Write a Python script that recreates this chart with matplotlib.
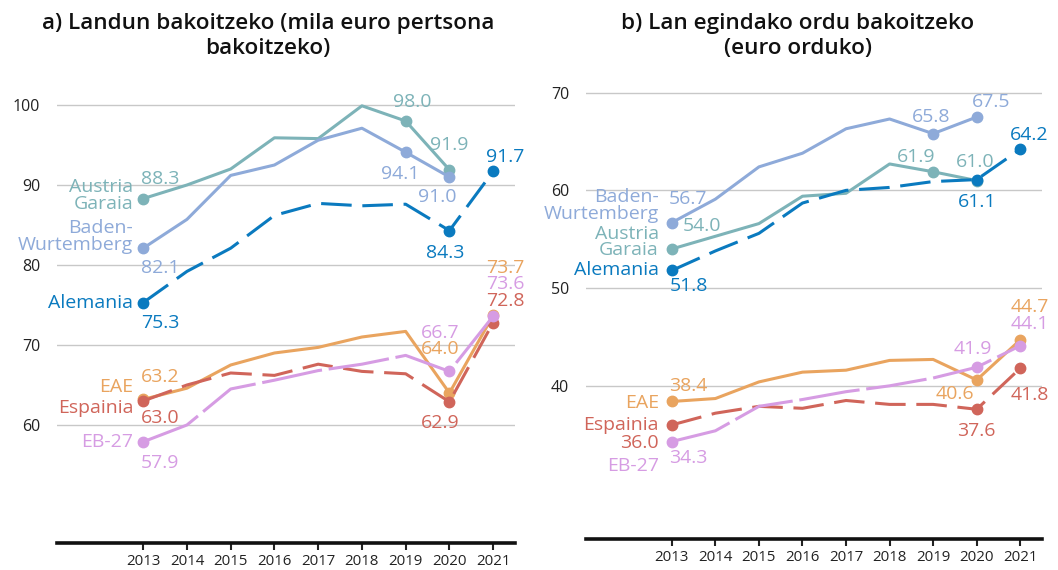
import matplotlib
matplotlib.use("Agg")
import matplotlib.pyplot as plt

plt.rcParams['font.family'] = ['Open Sans', 'DejaVu Sans']

years = [2013, 2014, 2015, 2016, 2017, 2018, 2019, 2020, 2021]

# a) per employed person (thousand euro)
a_austria = [88.3, 90.0, 92.0, 95.9, 95.8, 99.9, 98.0, 91.9]
a_baden = [82.1, 85.7, 91.2, 92.5, 95.6, 97.1, 94.1, 91.0]
a_alemania = [75.3, 79.2, 82.1, 86.2, 87.7, 87.4, 87.6, 84.3, 91.7]
a_eae = [63.2, 64.6, 67.5, 69.0, 69.7, 71.0, 71.7, 64.0, 73.7]
a_espainia = [63.0, 65.0, 66.5, 66.2, 67.6, 66.7, 66.4, 62.9, 72.8]
a_eb27 = [57.9, 60.0, 64.5, 65.6, 66.8, 67.6, 68.7, 66.7, 73.6]

# b) per hour worked (euro)
b_baden = [56.7, 59.1, 62.4, 63.8, 66.3, 67.3, 65.8, 67.5]
b_austria = [54.0, 55.3, 56.6, 59.4, 59.7, 62.7, 61.9, 61.0]
b_alemania = [51.8, 53.8, 55.6, 58.7, 60.0, 60.3, 60.9, 61.1, 64.2]
b_eae = [38.4, 38.7, 40.4, 41.4, 41.6, 42.6, 42.7, 40.6, 44.7]
b_espainia = [36.0, 37.2, 37.9, 37.7, 38.5, 38.1, 38.1, 37.6, 41.8]
b_eb27 = [34.3, 35.4, 37.9, 38.6, 39.4, 40.0, 40.8, 41.9, 44.1]

C_AUS = '#7db3b8'
C_BAD = '#8eaad9'
C_ALE = '#0a7abf'
C_EAE = '#e9a45f'
C_ESP = '#d0655a'
C_EB = '#d69ce3'

DASH = (0, (10, 3.5))
LONGDASH = (0, (20, 2.2))

fig = plt.figure(figsize=(10.58, 5.70), dpi=100)
ax1 = fig.add_axes([0.0539, 0.0474, 0.4329, 0.8175])
ax2 = fig.add_axes([0.5539, 0.0539, 0.431, 0.8265])


def setup(ax, ylim, yticks):
    ax.set_xlim(2011.03, 2021.5)
    ax.set_ylim(*ylim)
    ax.set_yticks(yticks)
    ax.set_xticks(years)
    ax.grid(axis='y', color='#c8c8c8', linewidth=1)
    ax.set_axisbelow(True)
    for s in ['top', 'right', 'left']:
        ax.spines[s].set_visible(False)
    ax.spines['bottom'].set_linewidth(2.6)
    ax.spines['bottom'].set_color('#111111')
    ax.tick_params(axis='y', length=0, pad=12, labelsize=11.5, labelcolor='#222222')
    ax.tick_params(axis='x', length=5, width=1.5, color='#222222', pad=3,
                   labelsize=10.8, labelcolor='#222222')


def series(ax, vals, color, ls, marks):
    ax.plot(years[:len(vals)], vals, color=color, linestyle=ls, linewidth=2.2,
            marker='o', markersize=7.5, markevery=marks, solid_capstyle='butt')


def lab(ax, i, vals, text, color, dx, dy, ha='center'):
    ax.annotate(text, (years[i], vals[i]), xytext=(dx, -dy), textcoords='offset pixels',
                ha=ha, va='center', color=color, fontsize=14, linespacing=0.92)


# ---- a) ----
setup(ax1, (45.25, 103.5), [60, 70, 80, 90, 100])
series(ax1, a_austria, C_AUS, '-', [0, 6, 7])
series(ax1, a_baden, C_BAD, '-', [0, 6, 7])
series(ax1, a_alemania, C_ALE, DASH, [0, 7, 8])
series(ax1, a_eae, C_EAE, '-', [0, 7, 8])
series(ax1, a_espainia, C_ESP, DASH, [0, 7, 8])
series(ax1, a_eb27, C_EB, LONGDASH, [0, 7, 8])

lab(ax1, 0, a_austria, 'Austria\nGaraia', C_AUS, -10, -3, 'right')
lab(ax1, 0, a_austria, '88.3', C_AUS, 17, -20)
lab(ax1, 6, a_austria, '98.0', C_AUS, 7, -19)
lab(ax1, 7, a_austria, '91.9', C_AUS, 0, -25)
lab(ax1, 0, a_baden, 'Baden-\nWurtemberg', C_BAD, -10, -12, 'right')
lab(ax1, 0, a_baden, '82.1', C_BAD, 17, 20)
lab(ax1, 6, a_baden, '94.1', C_BAD, -5, 22)
lab(ax1, 7, a_baden, '91.0', C_BAD, -12, 20)
lab(ax1, 0, a_alemania, 'Alemania', C_ALE, -10, 0, 'right')
lab(ax1, 0, a_alemania, '75.3', C_ALE, 17, 20)
lab(ax1, 7, a_alemania, '84.3', C_ALE, -4, 22)
lab(ax1, 8, a_alemania, '91.7', C_ALE, 12, -14)
lab(ax1, 0, a_eae, 'EAE', C_EAE, -10, -12, 'right')
lab(ax1, 0, a_eae, '63.2', C_EAE, 17, -22)
lab(ax1, 7, a_eae, '64.0', C_EAE, -9, -44)
lab(ax1, 8, a_eae, '73.7', C_EAE, 12, -47)
lab(ax1, 0, a_espainia, 'Espainia', C_ESP, -10, 7, 'right')
lab(ax1, 0, a_espainia, '63.0', C_ESP, 17, 17)
lab(ax1, 7, a_espainia, '62.9', C_ESP, -9, 21)
lab(ax1, 8, a_espainia, '72.8', C_ESP, 12, -22)
lab(ax1, 0, a_eb27, 'EB-27', C_EB, -10, 0, 'right')
lab(ax1, 0, a_eb27, '57.9', C_EB, 17, 21)
lab(ax1, 7, a_eb27, '66.7', C_EB, -9, -38)
lab(ax1, 8, a_eb27, '73.6', C_EB, 12, -32)

# ---- b) ----
setup(ax2, (24.3, 72.5), [40, 50, 60, 70])
series(ax2, b_baden, C_BAD, '-', [0, 6, 7])
series(ax2, b_austria, C_AUS, '-', [0, 6, 7])
series(ax2, b_alemania, C_ALE, DASH, [0, 7, 8])
series(ax2, b_eae, C_EAE, '-', [0, 7, 8])
series(ax2, b_espainia, C_ESP, DASH, [0, 7, 8])
series(ax2, b_eb27, C_EB, LONGDASH, [0, 7, 8])

lab(ax2, 0, b_baden, 'Baden-\nWurtemberg', C_BAD, -13, -17, 'right')
lab(ax2, 0, b_baden, '56.7', C_BAD, 16, -24)
lab(ax2, 6, b_baden, '65.8', C_BAD, -2, -17)
lab(ax2, 7, b_baden, '67.5', C_BAD, 14, -15)
lab(ax2, 0, b_austria, 'Austria\nGaraia', C_AUS, -13, -7, 'right')
lab(ax2, 0, b_austria, '54.0', C_AUS, 30, -23)
lab(ax2, 6, b_austria, '61.9', C_AUS, -17, -15)
lab(ax2, 7, b_austria, '61.0', C_AUS, -2, -19)
lab(ax2, 0, b_alemania, 'Alemania', C_ALE, -13, 0, 'right')
lab(ax2, 0, b_alemania, '51.8', C_ALE, 17, 16)
lab(ax2, 7, b_alemania, '61.1', C_ALE, 0, 22)
lab(ax2, 8, b_alemania, '64.2', C_ALE, 9, -14)
lab(ax2, 0, b_eae, 'EAE', C_EAE, -13, 2, 'right')
lab(ax2, 0, b_eae, '38.4', C_EAE, 16, -15)
lab(ax2, 7, b_eae, '40.6', C_EAE, -22, 14)
lab(ax2, 8, b_eae, '44.7', C_EAE, 10, -33)
lab(ax2, 0, b_espainia, 'Espainia', C_ESP, -13, 0, 'right')
lab(ax2, 0, b_espainia, '36.0', C_ESP, -13, 18, 'right')
lab(ax2, 7, b_espainia, '37.6', C_ESP, 0, 22)
lab(ax2, 8, b_espainia, '41.8', C_ESP, 10, 27)
lab(ax2, 0, b_eb27, 'EB-27', C_EB, -13, 24, 'right')
lab(ax2, 0, b_eb27, '34.3', C_EB, 16, 16)
lab(ax2, 7, b_eb27, '41.9', C_EB, -4, -18)
lab(ax2, 8, b_eb27, '44.1', C_EB, 10, -22)

fig.text(268 / 1058, 1 - 36 / 570, 'a) Landun bakoitzeko (mila euro pertsona\nbakoitzeko)',
         ha='center', va='center', fontsize=16.2, fontweight='semibold', color='#111111',
         linespacing=1.3)
fig.text(798 / 1058, 1 - 36 / 570, 'b) Lan egindako ordu bakoitzeko\n(euro orduko)',
         ha='center', va='center', fontsize=16.2, fontweight='semibold', color='#111111',
         linespacing=1.3)

fig.savefig('out.png', dpi=100)
